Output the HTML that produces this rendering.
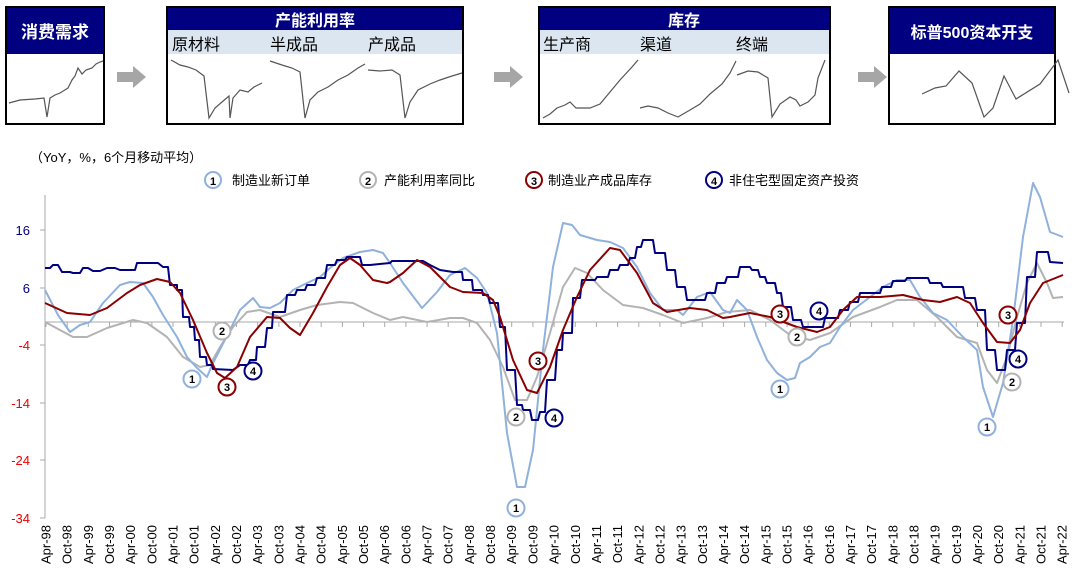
<!DOCTYPE html>
<html><head><meta charset="utf-8"><style>
body{margin:0;background:#fff;width:1080px;height:582px;overflow:hidden;font-family:"Liberation Sans","Noto Sans CJK SC",sans-serif}
</style></head><body>
<svg width="1080" height="582" viewBox="0 0 1080 582" xmlns="http://www.w3.org/2000/svg" font-family="Liberation Sans, Noto Sans CJK SC, sans-serif">
<g stroke="#000" stroke-width="2" fill="#fff">
<rect x="6" y="7" width="98" height="117"/>
<rect x="167" y="7" width="296" height="117"/>
<rect x="539" y="7" width="291" height="117"/>
<rect x="889" y="7" width="166" height="117"/>
</g>
<rect x="7" y="8" width="96" height="46" fill="#000080"/>
<rect x="168" y="8" width="294" height="22" fill="#000080"/>
<rect x="168" y="30" width="294" height="24" fill="#dce6f0"/>
<rect x="540" y="8" width="289" height="22" fill="#000080"/>
<rect x="540" y="30" width="289" height="24" fill="#dce6f0"/>
<rect x="890" y="8" width="164" height="46" fill="#000080"/>
<g fill="#fff" font-weight="bold" text-anchor="middle">
<text x="55" y="38" font-size="17">消费需求</text>
<text x="315" y="26" font-size="16">产能利用率</text>
<text x="684" y="26" font-size="16">库存</text>
<text x="972" y="38" font-size="16">标普500资本开支</text>
</g>
<g fill="#000" font-size="16">
<text x="172" y="50">原材料</text><text x="270" y="50">半成品</text><text x="368" y="50">产成品</text>
<text x="543" y="50">生产商</text><text x="640" y="50">渠道</text><text x="736" y="50">终端</text>
</g>
<g fill="#a6a6a6">
<polygon points="117,72 133,72 133,66 146,77 133,88 133,82 117,82"/>
<polygon points="494,72 510,72 510,66 523,77 510,88 510,82 494,82"/>
<polygon points="858,72 874,72 874,66 887,77 874,88 874,82 858,82"/>
</g>
<g fill="none" stroke="#555" stroke-width="1.2">
<polyline points="9,103 20,100 35,99 44,98 47,117 50,98 55,95 60,93 68,88 72,80 75,76 78,68 82,74 86,70 92,68 96,64 100,62 103,61"/>
<polyline points="171,60 180,65 188,67 196,70 204,76 209,118 215,108 222,102 229,96 230,118 233,98 240,90 248,92 254,87 262,83"/>
<polyline points="270,61 282,65 292,68 300,72 305,118 310,100 318,92 328,87 338,80 348,75 358,68 365,64"/>
<polyline points="368,70 380,71 392,70 400,75 405,118 410,102 418,90 430,84 440,80 452,76 462,73"/>
<polyline points="543,118 550,114 557,108 565,105 570,102 576,108 590,108 600,104 610,92 620,80 632,67 638,60"/>
<polyline points="640,108 648,106 658,108 668,113 678,117 690,110 700,104 710,94 722,84 730,73 736,61"/>
<polyline points="737,75 748,71 758,72 768,78 772,117 780,104 790,97 796,100 800,106 808,102 815,95 818,78 825,60"/>
<polyline points="922,94 935,88 946,86 959,71 972,83 984,117 993,108 1004,76 1016,99 1040,84 1058,60 1069,93"/>
</g>
<text x="30" y="162" font-size="13" fill="#000">（YoY，%，6个月移动平均）</text>
<g font-size="13" fill="#000">
<circle cx="213" cy="180" r="8" fill="#fff" stroke="#8fb1dc" stroke-width="2"/><text x="213" y="185" font-size="11" font-weight="bold" text-anchor="middle">1</text><text x="232" y="185">制造业新订单</text>
<circle cx="368" cy="180" r="8" fill="#fff" stroke="#b3b3b3" stroke-width="2"/><text x="368" y="185" font-size="11" font-weight="bold" text-anchor="middle">2</text><text x="384" y="185">产能利用率同比</text>
<circle cx="534" cy="180" r="8" fill="#fff" stroke="#8b0000" stroke-width="2"/><text x="534" y="185" font-size="11" font-weight="bold" text-anchor="middle">3</text><text x="548" y="185">制造业产成品库存</text>
<circle cx="714" cy="180" r="8" fill="#fff" stroke="#000080" stroke-width="2"/><text x="714" y="185" font-size="11" font-weight="bold" text-anchor="middle">4</text><text x="729" y="185">非住宅型固定资产投资</text>
</g>
<g stroke="#aaa" stroke-width="1">
<line x1="45" y1="195" x2="45" y2="518"/>
<line x1="40" y1="230" x2="45" y2="230"/><line x1="40" y1="288" x2="45" y2="288"/><line x1="40" y1="345" x2="45" y2="345"/><line x1="40" y1="403" x2="45" y2="403"/><line x1="40" y1="460" x2="45" y2="460"/><line x1="40" y1="518" x2="45" y2="518"/>
<line x1="45" y1="322" x2="1064" y2="322"/>
<path d="M46,322v5M67.2,322v5M88.3,322v5M109.5,322v5M130.7,322v5M151.9,322v5M173,322v5M194.2,322v5M215.4,322v5M236.5,322v5M257.7,322v5M278.9,322v5M300,322v5M321.2,322v5M342.4,322v5M363.6,322v5M384.7,322v5M405.9,322v5M427.1,322v5M448.2,322v5M469.4,322v5M490.6,322v5M511.7,322v5M532.9,322v5M554.1,322v5M575.3,322v5M596.4,322v5M617.6,322v5M638.8,322v5M659.9,322v5M681.1,322v5M702.3,322v5M723.4,322v5M744.6,322v5M765.8,322v5M787,322v5M808.1,322v5M829.3,322v5M850.5,322v5M871.6,322v5M892.8,322v5M914,322v5M935.1,322v5M956.3,322v5M977.5,322v5M998.7,322v5M1019.8,322v5M1041,322v5M1062.2,322v5"/>
</g>
<g font-size="13" text-anchor="end">
<text x="30" y="235" fill="#000080">16</text>
<text x="30" y="293" fill="#000080">6</text>
<text x="30" y="350" fill="#e00">-4</text>
<text x="30" y="408" fill="#e00">-14</text>
<text x="30" y="465" fill="#e00">-24</text>
<text x="30" y="523" fill="#e00">-34</text>
</g>
<g fill="none" stroke-width="2" stroke-linejoin="round">
<polyline stroke="#b3b3b3" points="45,322 60,330 73,337 87,337 107,328 133,320 147,323 167,337 183,357 200,367 210,365 220,347 233,327 247,312 260,310 280,317 300,310 317,305 340,302 353,303 373,313 390,320 403,317 427,322 450,318 463,318 477,323 490,340 503,367 515,400 527,400 537,377 550,333 563,287 575,268 587,273 603,290 623,305 643,308 663,315 683,323 707,318 727,312 750,310 770,320 790,335 810,340 830,333 853,317 880,307 897,300 917,300 937,317 957,337 977,343 987,370 997,383 1007,357 1017,317 1027,283 1037,263 1047,283 1053,298 1063,297"/>
<polyline stroke="#8fb1dc" points="45,290 58,315 70,332 80,325 90,322 103,303 120,285 130,282 143,283 153,297 163,315 177,337 187,357 197,368 207,377 213,363 230,330 240,310 253,298 260,307 270,308 280,303 293,290 307,283 320,277 330,268 343,258 360,252 373,250 383,253 390,263 403,283 422,308 437,292 450,275 465,268 477,278 487,293 497,333 507,433 517,487 525,487 533,450 543,350 553,267 563,223 572,225 580,235 597,240 610,242 623,248 637,267 650,293 663,310 677,310 683,315 697,297 710,292 723,310 730,313 737,300 747,310 757,337 767,360 777,373 787,380 795,378 800,363 810,357 820,347 830,343 840,327 853,310 870,297 883,287 897,280 910,280 920,297 933,313 947,320 963,337 977,350 983,387 993,417 1003,383 1013,320 1023,237 1033,183 1040,197 1050,232 1063,237"/>
<polyline stroke="#000080" points="45,268 50,268 53,265 58,265 62,272 70,272 73,273 80,273 83,268 88,268 93,271 100,271 107,268 115,268 120,270 135,270 137,263 158,263 163,267 168,267 170,285 177,285 177,290 182,290 183,317 189,317 190,327 194,327 195,340 199,340 200,357 206,357 207,365 212,365 213,369 233,370 240,365 248,365 250,360 256,360 257,347 265,347 267,328 272,328 273,312 285,312 287,295 295,295 297,290 305,290 307,285 315,285 317,278 325,278 327,265 335,265 337,260 345,260 347,257 360,257 362,265 370,265 390,263 392,261 423,261 430,265 440,270 453,272 462,272 463,280 472,280 473,290 482,290 483,295 488,295 490,303 498,303 500,327 505,327 507,370 515,370 517,405 522,405 523,410 530,410 532,420 538,420 540,412 545,412 547,380 555,380 557,350 562,350 563,333 572,333 573,298 580,298 582,280 595,280 597,277 608,277 610,270 618,270 620,265 628,265 630,258 635,258 637,247 641,247 643,240 653,240 655,253 665,253 667,270 675,270 677,287 685,287 687,300 705,300 707,293 715,293 717,283 725,283 727,277 738,277 740,267 750,267 752,270 758,270 760,277 765,277 767,283 775,283 777,293 781,293 783,307 791,307 793,320 801,320 803,327 823,327 825,318 838,318 840,310 848,310 850,302 858,302 860,293 880,293 882,287 891,287 893,281 905,281 907,278 928,278 930,283 941,283 943,287 963,287 965,298 975,298 977,310 985,310 987,350 995,350 997,370 1005,370 1007,350 1015,350 1017,323 1025,323 1027,277 1035,277 1037,252 1048,252 1050,262 1063,263"/>
<polyline stroke="#8b0000" points="45,303 67,313 90,315 107,308 127,293 140,285 157,279 170,282 180,293 193,320 207,353 217,373 225,378 237,367 250,337 267,317 280,318 290,328 300,335 313,313 327,287 340,265 350,258 360,265 373,280 387,283 390,282 403,273 417,260 430,267 450,287 463,292 483,293 493,300 500,317 513,360 527,390 537,393 550,367 563,330 577,297 590,270 610,248 620,250 637,273 653,303 667,312 690,308 707,310 723,318 730,317 750,313 770,317 797,327 817,332 830,327 843,310 857,297 880,297 903,295 923,300 940,302 957,297 970,303 983,323 997,342 1010,343 1020,330 1030,303 1043,283 1063,275"/>
</g>
<g font-size="11" font-weight="bold" text-anchor="middle" fill="#000">
<g stroke="#8fb1dc" stroke-width="2" fill="#fff"><circle cx="192" cy="379" r="8.5"/><circle cx="516" cy="508" r="8.5"/><circle cx="780" cy="389" r="8.5"/><circle cx="987" cy="427" r="8.5"/></g>
<g stroke="#b3b3b3" stroke-width="2" fill="#fff"><circle cx="222" cy="331" r="8.5"/><circle cx="516" cy="417" r="8.5"/><circle cx="797" cy="337" r="8.5"/><circle cx="1012" cy="382" r="8.5"/></g>
<g stroke="#8b0000" stroke-width="2" fill="#fff"><circle cx="227" cy="387" r="8.5"/><circle cx="538" cy="361" r="8.5"/><circle cx="780" cy="314" r="8.5"/><circle cx="1008" cy="315" r="8.5"/></g>
<g stroke="#000080" stroke-width="2" fill="#fff"><circle cx="253" cy="371" r="8.5"/><circle cx="554" cy="418" r="8.5"/><circle cx="819" cy="311" r="8.5"/><circle cx="1018" cy="359" r="8.5"/></g>
<text x="192" y="383">1</text><text x="516" y="512">1</text><text x="780" y="393">1</text><text x="987" y="431">1</text>
<text x="222" y="335">2</text><text x="516" y="421">2</text><text x="797" y="341">2</text><text x="1012" y="386">2</text>
<text x="227" y="391">3</text><text x="538" y="365">3</text><text x="780" y="318">3</text><text x="1008" y="319">3</text>
<text x="253" y="375">4</text><text x="554" y="422">4</text><text x="819" y="315">4</text><text x="1018" y="363">4</text>
</g>
<g font-size="13" fill="#000" text-anchor="end">
<text transform="translate(50.5,525) rotate(-90)">Apr-98</text>
<text transform="translate(71.7,525) rotate(-90)">Oct-98</text>
<text transform="translate(92.8,525) rotate(-90)">Apr-99</text>
<text transform="translate(114,525) rotate(-90)">Oct-99</text>
<text transform="translate(135.2,525) rotate(-90)">Apr-00</text>
<text transform="translate(156.4,525) rotate(-90)">Oct-00</text>
<text transform="translate(177.5,525) rotate(-90)">Apr-01</text>
<text transform="translate(198.7,525) rotate(-90)">Oct-01</text>
<text transform="translate(219.9,525) rotate(-90)">Apr-02</text>
<text transform="translate(241,525) rotate(-90)">Oct-02</text>
<text transform="translate(262.2,525) rotate(-90)">Apr-03</text>
<text transform="translate(283.4,525) rotate(-90)">Oct-03</text>
<text transform="translate(304.5,525) rotate(-90)">Apr-04</text>
<text transform="translate(325.7,525) rotate(-90)">Oct-04</text>
<text transform="translate(346.9,525) rotate(-90)">Apr-05</text>
<text transform="translate(368.1,525) rotate(-90)">Oct-05</text>
<text transform="translate(389.2,525) rotate(-90)">Apr-06</text>
<text transform="translate(410.4,525) rotate(-90)">Oct-06</text>
<text transform="translate(431.6,525) rotate(-90)">Apr-07</text>
<text transform="translate(452.7,525) rotate(-90)">Oct-07</text>
<text transform="translate(473.9,525) rotate(-90)">Apr-08</text>
<text transform="translate(495.1,525) rotate(-90)">Oct-08</text>
<text transform="translate(516.2,525) rotate(-90)">Apr-09</text>
<text transform="translate(537.4,525) rotate(-90)">Oct-09</text>
<text transform="translate(558.6,525) rotate(-90)">Apr-10</text>
<text transform="translate(579.8,525) rotate(-90)">Oct-10</text>
<text transform="translate(600.9,525) rotate(-90)">Apr-11</text>
<text transform="translate(622.1,525) rotate(-90)">Oct-11</text>
<text transform="translate(643.3,525) rotate(-90)">Apr-12</text>
<text transform="translate(664.4,525) rotate(-90)">Oct-12</text>
<text transform="translate(685.6,525) rotate(-90)">Apr-13</text>
<text transform="translate(706.8,525) rotate(-90)">Oct-13</text>
<text transform="translate(727.9,525) rotate(-90)">Apr-14</text>
<text transform="translate(749.1,525) rotate(-90)">Oct-14</text>
<text transform="translate(770.3,525) rotate(-90)">Apr-15</text>
<text transform="translate(791.5,525) rotate(-90)">Oct-15</text>
<text transform="translate(812.6,525) rotate(-90)">Apr-16</text>
<text transform="translate(833.8,525) rotate(-90)">Oct-16</text>
<text transform="translate(855,525) rotate(-90)">Apr-17</text>
<text transform="translate(876.1,525) rotate(-90)">Oct-17</text>
<text transform="translate(897.3,525) rotate(-90)">Apr-18</text>
<text transform="translate(918.5,525) rotate(-90)">Oct-18</text>
<text transform="translate(939.6,525) rotate(-90)">Apr-19</text>
<text transform="translate(960.8,525) rotate(-90)">Oct-19</text>
<text transform="translate(982,525) rotate(-90)">Apr-20</text>
<text transform="translate(1003.2,525) rotate(-90)">Oct-20</text>
<text transform="translate(1024.3,525) rotate(-90)">Apr-21</text>
<text transform="translate(1045.5,525) rotate(-90)">Oct-21</text>
<text transform="translate(1066.7,525) rotate(-90)">Apr-22</text>
</g>
</svg>
</body></html>
